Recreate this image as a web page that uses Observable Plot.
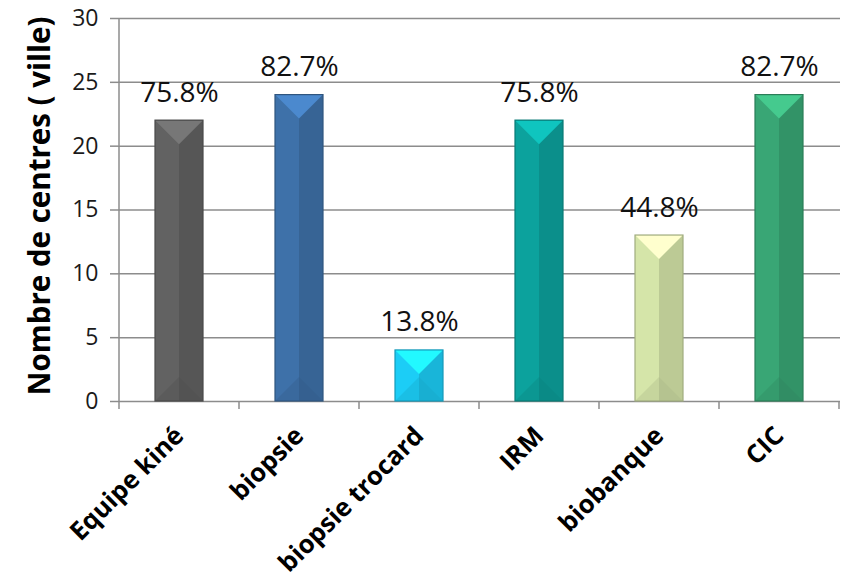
<!DOCTYPE html>
<html><head><meta charset="utf-8">
<script src="https://cdn.jsdelivr.net/npm/d3@7"></script>
<script src="https://cdn.jsdelivr.net/npm/@observablehq/plot@0.6"></script>
<style>body{margin:0;background:#fff;}</style>
</head><body><div id="chart"></div>
<script>
const categories = ["Equipe kiné", "biopsie", "biopsie trocard", "IRM", "biobanque", "CIC"];
const counts = [22, 24, 4, 22, 13, 24];
const percentLabels = ["75.8%", "82.7%", "13.8%", "75.8%", "44.8%", "82.7%"];
const yTicks = [0, 5, 10, 15, 20, 25, 30];
const barColors = ["#626262", "#3e71a9", "#1ccdf6", "#0ca29d", "#d5e5a9", "#39a675"];
const yTitle = "Nombre de centres ( ville)";

const data = categories.map((c, i) => ({category: c, count: counts[i], label: percentLabels[i]}));

const chart = Plot.plot({
  width: 842, height: 587,
  marginLeft: 118, marginRight: 2, marginTop: 18, marginBottom: 186,
  style: {fontFamily: "'Open Sans', sans-serif", background: "#fff", overflow: "visible"},
  x: {domain: categories, paddingInner: 0.6, paddingOuter: 0.3, label: null},
  y: {domain: [0, 30], label: null},
  color: {domain: categories, range: barColors},
  marks: [
    Plot.gridY(yTicks, {stroke: "#8c8c8c", strokeOpacity: 1, strokeWidth: 1.5}),
    Plot.axisY(yTicks, {tickSize: 8, tickPadding: 12, fontSize: 23, stroke: "#8c8c8c", strokeWidth: 1.5, fill: "#1a1a1a", label: null}),
    Plot.axisX({tickSize: 0, tickPadding: 30, tickRotate: -45, fontSize: 25.5, fontWeight: 700, fill: "#000", label: null}),
    Plot.barY(data, {x: "category", y: "count", fill: "category"}),
    Plot.text(data, {x: "category", y: "count", text: "label", dy: -28, fontSize: 28, fill: "#111"}),
    Plot.text([yTitle], {frameAnchor: "left", rotate: -90, dx: -78, dy: -4, textAnchor: "middle", fontSize: 29.5, fontWeight: 700, fill: "#000"})
  ]
});

document.getElementById("chart").appendChild(chart);

// decorations derived from the library's scales / rendered bars
const svg = d3.select(chart);
const xs = chart.scale("x");
const ys = chart.scale("y");
const y0 = ys.apply(0), y30 = ys.apply(30);
const step = xs.step, bw = xs.bandwidth;
const deco = svg.append("g");
// vertical axis line
const left = xs.apply(categories[0]) - (step - bw) / 2;
deco.append("line").attr("x1", left).attr("x2", left).attr("y1", y30).attr("y2", y0)
  .attr("stroke", "#8c8c8c").attr("stroke-width", 1.5);
// category boundary ticks
categories.forEach((c, i) => {
  const bx = xs.apply(c) - (step - bw) / 2;
  const pts = i === categories.length - 1 ? [bx, bx + step] : [bx];
  pts.forEach(px => deco.append("line").attr("x1", px).attr("x2", px).attr("y1", y0).attr("y2", y0 + 8)
    .attr("stroke", "#8c8c8c").attr("stroke-width", 1.5));
});
// bevel effect on bars
svg.selectAll('g[aria-label="bar"] rect').each(function() {
  const r = d3.select(this);
  const x = +r.attr("x"), y = +r.attr("y"), w = +r.attr("width"), h = +r.attr("height");
  const base = d3.color(r.attr("fill"));
  const g = d3.select(this.parentNode).append("g");
  const b = Math.min(w / 2, h / 2);
  g.append("rect").attr("x", x + w / 2).attr("y", y).attr("width", w / 2).attr("height", h)
    .attr("fill", base.darker(0.35).formatHex());
  g.append("polygon").attr("points", `${x},${y + h} ${x + w / 2},${y + h - b} ${x + w / 2},${y + h}`)
    .attr("fill", base.darker(0.2).formatHex());
  g.append("polygon").attr("points", `${x + w / 2},${y + h} ${x + w / 2},${y + h - b} ${x + w},${y + h}`)
    .attr("fill", base.darker(0.45).formatHex());
  g.append("polygon").attr("points", `${x},${y} ${x + w},${y} ${x + w / 2},${y + b}`)
    .attr("fill", base.brighter(0.55).formatHex());
  g.append("rect").attr("x", x).attr("y", y).attr("width", w).attr("height", h)
    .attr("fill", "none").attr("stroke", base.darker(0.8).formatHex()).attr("stroke-width", 1.2);
});
// keep labels above bars
svg.selectAll('g[aria-label="text"]').raise();
</script>
</body></html>
